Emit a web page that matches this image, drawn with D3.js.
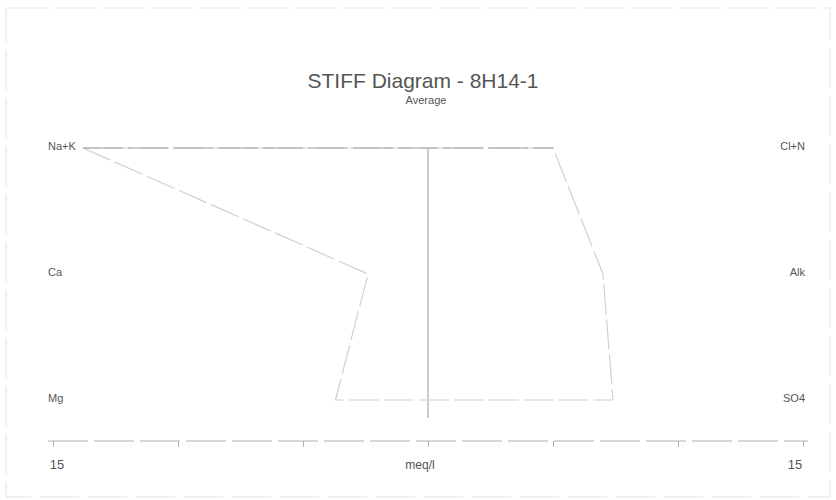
<!DOCTYPE html>
<html><head><meta charset="utf-8">
<script src="https://cdn.jsdelivr.net/npm/d3@7"></script>
<style>
html,body{margin:0;padding:0;background:#fff;}
text{font-family:"Liberation Sans Narrow","Arial Narrow","Liberation Sans",Arial,sans-serif;fill:#555;}
</style></head>
<body>
<svg id="chart" width="836" height="500"></svg>
<script>
const title = "STIFF Diagram - 8H14-1";
const subtitle = "Average";
const cations = ["Na+K", "Ca", "Mg"];
const cationValues = [13.8, 2.4, 3.7];
const anions = ["Cl+N", "Alk", "SO4"];
const anionValues = [5.0, 7.0, 7.4];
const tickValues = [-15, -10, -5, 0, 5, 10, 15];
const axisLabels = ["15", "meq/l", "15"];

const svg = d3.select("#chart");

// frame
svg.append("rect").attr("x", 6).attr("y", 8).attr("width", 824).attr("height", 489)
  .attr("fill", "none").attr("stroke", "#e2e2e2").attr("stroke-width", 1)
  .attr("stroke-dasharray", "40,8");

const x = d3.scaleLinear().domain([-15, 15]).range([53, 803]);
const y = d3.scalePoint().domain(d3.range(cations.length)).range([148, 400]);

// title
svg.append("text").attr("x", 423).attr("y", 88).attr("text-anchor", "middle")
  .attr("font-size", 21).attr("fill", "#444").text(title);
svg.append("text").attr("x", 426).attr("y", 104).attr("text-anchor", "middle")
  .attr("font-size", 11).text(subtitle);

// center line
svg.append("line").attr("x1", x(0)).attr("x2", x(0)).attr("y1", y(0)).attr("y2", 418)
  .attr("stroke", "#9a9a9a").attr("stroke-width", 1);

// polygon
const pts = [];
cationValues.forEach((v, i) => pts.push([x(-v), y(i)]));
for (let i = anionValues.length - 1; i >= 0; i--) pts.push([x(anionValues[i]), y(i)]);
svg.append("path").attr("d", d3.line()(pts) + "Z")
  .attr("fill", "none").attr("stroke", "#d0d0d0").attr("stroke-width", 1.2)
  .attr("stroke-dasharray", "30,5");
// darker top edge
svg.append("line").attr("x1", x(-cationValues[0])).attr("x2", x(anionValues[0]))
  .attr("y1", y(0)).attr("y2", y(0)).attr("stroke", "#a0a0a0").attr("stroke-width", 1.2)
  .attr("stroke-dasharray", "40,5");

// row labels
cations.forEach((c, i) => svg.append("text").attr("x", 48).attr("y", y(i) + 2)
  .attr("font-size", 11).text(c));
anions.forEach((a, i) => svg.append("text").attr("x", 805).attr("y", y(i) + 2)
  .attr("text-anchor", "end").attr("font-size", 11).text(a));

// axis
const axis = d3.axisBottom(x).tickValues(tickValues).tickSize(6).tickFormat("");
const g = svg.append("g").attr("transform", "translate(0,441)").call(axis);
g.select(".domain").attr("d", "M48,0H808").attr("stroke", "#b0b0b0").attr("stroke-dasharray", "40,6");
g.selectAll(".tick line").attr("stroke", "#b0b0b0");

svg.append("text").attr("x", x(-15) + 4).attr("y", 469).attr("text-anchor", "middle")
  .attr("font-size", 13).text(axisLabels[0]);
svg.append("text").attr("x", x(0) - 8).attr("y", 469).attr("text-anchor", "middle")
  .attr("font-size", 12).text(axisLabels[1]);
svg.append("text").attr("x", x(15) - 8).attr("y", 469).attr("text-anchor", "middle")
  .attr("font-size", 13).text(axisLabels[2]);
</script>
</body></html>
